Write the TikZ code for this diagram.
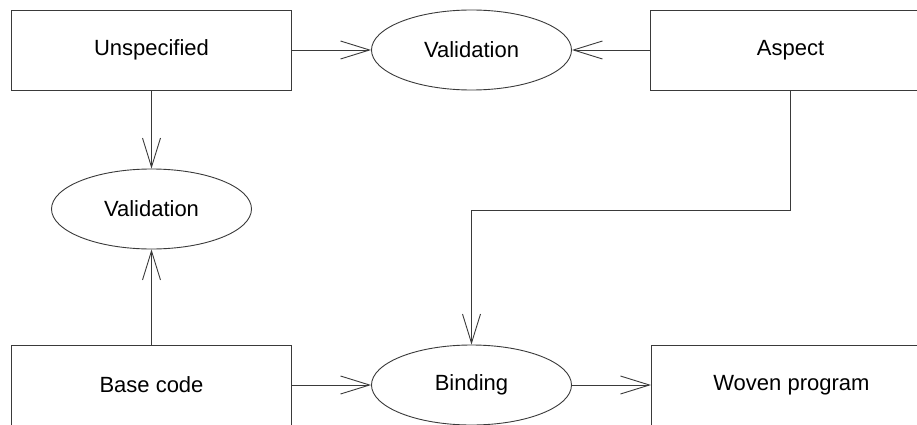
\documentclass[tikz,border=0pt]{standalone}
\usepackage{fontspec}
\setmainfont{Liberation Sans}
\usepackage{tikz}
\usetikzlibrary{arrows.meta,positioning,shapes.geometric}
\definecolor{wvline}{HTML}{3A3A3A}
\definecolor{wvink}{HTML}{000000}
\tikzset{
  blockbox/.style={draw=wvline,line width=0.9pt,rectangle,minimum width=280pt,
              minimum height=80pt,inner sep=0pt,font=\fontsize{22}{26}\selectfont,text=wvink},
  checkell/.style={draw=wvline,line width=0.9pt,ellipse,minimum width=200pt,
              minimum height=80pt,inner sep=0pt,font=\fontsize{22}{26}\selectfont,text=wvink},
  flowe/.style={-{Straight Barb[length=29pt,width=18pt,line width=0.9pt]},
              line width=0.9pt,draw=wvline},
}

\begin{document}
\begin{tikzpicture}[x=1pt,y=1pt]
  \clip (0,0) rectangle (917,424);

  % ---------- inputs ----------
  \node[blockbox] (unspec) at (151.5,374) {Unspecified};
  \node[blockbox] (aspect) at (790.5,374) {Aspect};
  \node[blockbox] (base)   at (151.5,39)  {Base code};

  % ---------- checks and weaving ----------
  \node[checkell] (valtop)  at (471.5,374) {Validation};
  \node[checkell] (valleft) at (151.5,215) {Validation};
  \node[checkell] (bind)    at (471.5,39)  {Binding};
  \node[blockbox] (woven) [right=79pt of bind] {Woven program};

  % ---------- connectors ----------
  \draw[flowe] (unspec) -- (valtop);
  \draw[flowe] (aspect) -- (valtop);
  \draw[flowe] (unspec) -- (valleft);
  \draw[flowe] (base) -- (valleft);
  \draw[flowe] (base) -- (bind);
  \draw[flowe] (bind) -- (woven);
  \coordinate (elbow) at (790.5,214);
  \draw[flowe] (aspect.south) -- (elbow) -| (bind.north);
\end{tikzpicture}
\end{document}
